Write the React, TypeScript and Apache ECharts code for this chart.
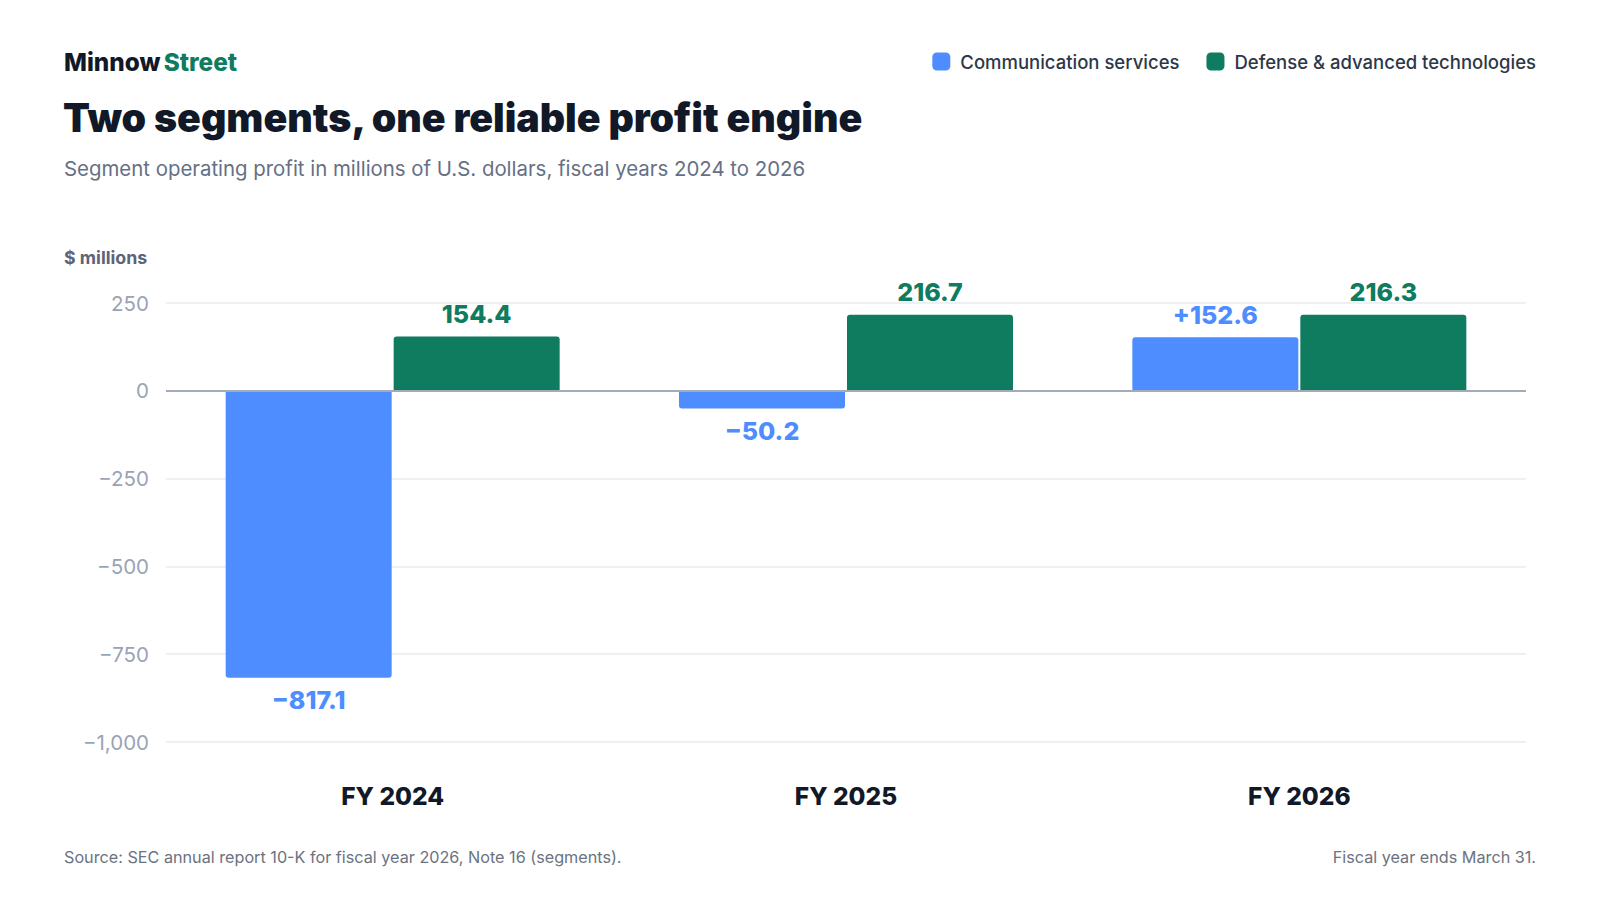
import React, { useEffect, useRef } from "react";
import * as echarts from "echarts";

const categories = ["FY 2024", "FY 2025", "FY 2026"];
const commServices = [-817.1, -50.2, 152.6];
const defenseTech = [154.4, 216.7, 216.3];
const seriesNames = ["Communication services", "Defense & advanced technologies"];
const yTicks = { min: -1000, max: 250, interval: 250 };

const BLUE = "#4d8dff";
const GREEN = "#0f7b5f";
const FONT = "Inter, 'Noto Sans', sans-serif";

const fmtAxis = (v: number) => {
  const s = Math.abs(v).toLocaleString("en-US");
  return v < 0 ? "\u2212" + s : s;
};
const fmtSigned = (v: number) => (v < 0 ? "\u2212" : "+") + Math.abs(v).toFixed(1);
const fmtPlain = (v: number) => (v < 0 ? "\u2212" : "") + Math.abs(v).toFixed(1);

export default function App() {
  const ref = useRef<HTMLDivElement>(null);
  useEffect(() => {
    document.body.style.margin = "0";
    const chart = echarts.init(ref.current!, null, { renderer: "svg" });
    const makeData = (vals: number[]) =>
      vals.map((v) => ({
        value: v,
        itemStyle: { borderRadius: v >= 0 ? [3, 3, 0, 0] : [0, 0, 3, 3] },
        label: { position: v >= 0 ? "top" : "bottom" },
      }));
    chart.setOption({
      animation: false,
      textStyle: { fontFamily: FONT },
      grid: { left: 166, right: 74, top: 303, bottom: 158, containLabel: false },
      legend: {
        right: 59,
        top: 47,
        itemWidth: 18,
        itemHeight: 18,
        itemGap: 27,
        icon: "roundRect",
        textStyle: { fontSize: 18.5, color: "#2d3748", fontWeight: 500, fontFamily: FONT, padding: [0, 0, 0, 5] },
        data: seriesNames,
      },
      xAxis: {
        type: "category",
        data: categories,
        axisLine: { show: false },
        axisTick: { show: false },
        axisLabel: { fontSize: 24.5, fontWeight: 800, color: "#111827", margin: 41, fontFamily: FONT },
      },
      yAxis: {
        type: "value",
        min: yTicks.min,
        max: yTicks.max,
        interval: yTicks.interval,
        axisLine: { show: false },
        axisTick: { show: false },
        splitLine: { lineStyle: { color: "#e8ebf0", width: 1.5 } },
        axisLabel: { fontSize: 20.5, color: "#9aa3b5", margin: 17, formatter: fmtAxis, fontFamily: FONT },
      },
      series: [
        {
          name: seriesNames[0],
          type: "bar",
          data: makeData(commServices),
          barWidth: 166,
          barGap: "1.2%",
          itemStyle: { color: BLUE },
          label: {
            show: true,
            fontSize: 25,
            fontWeight: 800,
            color: BLUE,
            distance: 10,
            fontFamily: FONT,
            formatter: (p: any) => fmtSigned(p.value),
          },
          markLine: {
            silent: true,
            symbol: "none",
            label: { show: false },
            lineStyle: { color: "#a3aab8", width: 2, type: "solid" },
            data: [{ yAxis: 0 }],
            z: 10,
          },
        },
        {
          name: seriesNames[1],
          type: "bar",
          data: makeData(defenseTech),
          barWidth: 166,
          itemStyle: { color: GREEN },
          label: {
            show: true,
            fontSize: 25,
            fontWeight: 800,
            color: GREEN,
            distance: 10,
            fontFamily: FONT,
            formatter: (p: any) => fmtPlain(p.value),
          },
        },
      ],
      graphic: [
        {
          type: "text",
          left: 64,
          top: 50,
          style: {
            rich: {
              a: { fontSize: 24.3, fontWeight: 800, fill: "#111827", fontFamily: FONT },
              b: { fontSize: 24.3, fontWeight: 800, fill: GREEN, fontFamily: FONT },
            },
            text: "{a|Minnow} {b|Street}",
          },
        },
        {
          type: "text",
          left: 63,
          top: 98,
          style: { text: "Two segments, one reliable profit engine", fontSize: 39.3, fontWeight: 900, fill: "#111827", fontFamily: FONT },
        },
        {
          type: "text",
          left: 64,
          top: 158,
          style: { text: "Segment operating profit in millions of U.S. dollars, fiscal years 2024 to 2026", fontSize: 20.4, fill: "#667085", fontFamily: FONT },
        },
        {
          type: "text",
          left: 64,
          top: 248,
          style: { text: "$ millions", fontSize: 17.8, fontWeight: 700, fill: "#5b6478", fontFamily: FONT },
        },
        {
          type: "text",
          left: 64,
          top: 849,
          style: { text: "Source: SEC annual report 10-K for fiscal year 2026, Note 16 (segments).", fontSize: 16.2, fill: "#6b7280", fontFamily: FONT },
        },
        {
          type: "text",
          right: 64,
          top: 849,
          style: { text: "Fiscal year ends March 31.", fontSize: 16.2, fill: "#6b7280", fontFamily: FONT },
        },
      ],
    });
    return () => chart.dispose();
  }, []);
  return <div ref={ref} style={{ width: 1600, height: 900, background: "#fff" }} />;
}
